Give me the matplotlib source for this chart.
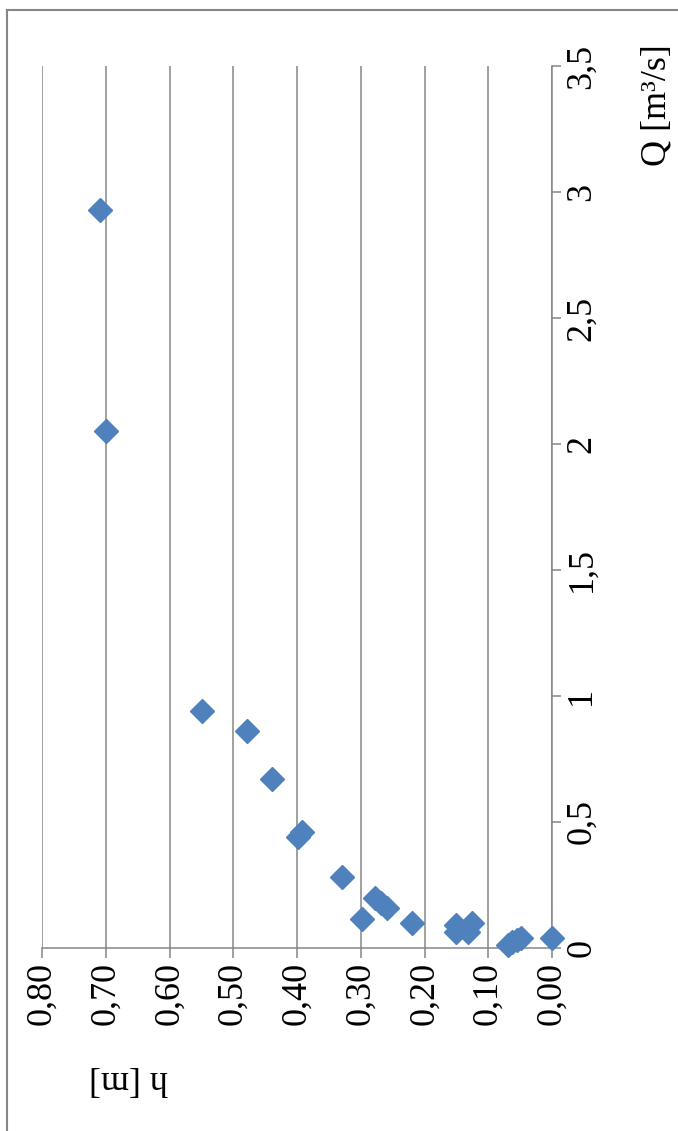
import matplotlib

matplotlib.use("Agg")
import matplotlib.pyplot as plt
from matplotlib.lines import Line2D

# measured points: water depth h [m] and discharge Q [m3/s]
h_vals = [0.709, 0.700, 0.549, 0.478, 0.439, 0.398, 0.392, 0.329, 0.298, 0.278,
          0.268, 0.259, 0.220, 0.150, 0.150, 0.126, 0.132, 0.069, 0.063, 0.055,
          0.048, 0.000]
q_vals = [2.93, 2.05, 0.94, 0.86, 0.67, 0.44, 0.46, 0.28, 0.115, 0.20,
          0.18, 0.16, 0.10, 0.09, 0.065, 0.10, 0.065, 0.01, 0.025, 0.03,
          0.04, 0.04]

h_ticks = [0.0, 0.1, 0.2, 0.3, 0.4, 0.5, 0.6, 0.7, 0.8]
q_ticks = [0, 0.5, 1, 1.5, 2, 2.5, 3, 3.5]

W, H = 678, 1131
grey = "#868686"
blue = "#4F81BD"
plt.rcParams["font.family"] = ["Liberation Serif", "DejaVu Serif"]

fig = plt.figure(figsize=(W / 100, H / 100), dpi=100)
ax = fig.add_axes([42 / W, 1 - 948 / H, (552 - 42) / W, (948 - 66) / H])

# chart is shown turned by 90 degrees: h runs right-to-left, Q upward
ax.plot(h_vals, q_vals, linestyle="none", marker="D", markersize=12.5,
        color=blue, clip_on=False, zorder=3)

ax.set_xlim(0.8, 0.0)
ax.set_ylim(0, 3.5)
ax.set_xticks(h_ticks)
ax.set_xticklabels([f"{t:.2f}".replace(".", ",") for t in h_ticks], rotation=90)
ax.set_yticks(q_ticks)
ax.set_yticklabels([f"{t:g}".replace(".", ",") for t in q_ticks], rotation=90, va="center")

for side in ("top", "left"):
    ax.spines[side].set_visible(False)
for side in ("bottom", "right"):
    ax.spines[side].set_color(grey)
    ax.spines[side].set_linewidth(1.1)

ax.grid(axis="x", color=grey, linewidth=1.1)
ax.set_axisbelow(True)
ax.tick_params(axis="x", direction="out", length=7, width=1.1, color=grey,
               labelsize=26, pad=3)
ax.tick_params(axis="y", left=False, labelleft=False, right=True, labelright=True,
               direction="out", length=6.5, width=1.1, color=grey,
               labelsize=26, pad=3)

fig.text(657 / W, 1 - 105 / H, "Q [m³/s]", rotation=90, ha="center", va="center",
         fontsize=26)
fig.text(128 / W, 1 - 1080 / H, "h [m]", rotation=180, ha="center", va="center",
         fontsize=26)

# outer chart frame
fig.add_artist(Line2D([7 / W, 7 / W], [0, 1 - 10 / H], color=grey, linewidth=1.5))
fig.add_artist(Line2D([7 / W, 1], [1 - 10 / H, 1 - 10 / H], color=grey, linewidth=1.5))

fig.savefig("out.png", dpi=100)
